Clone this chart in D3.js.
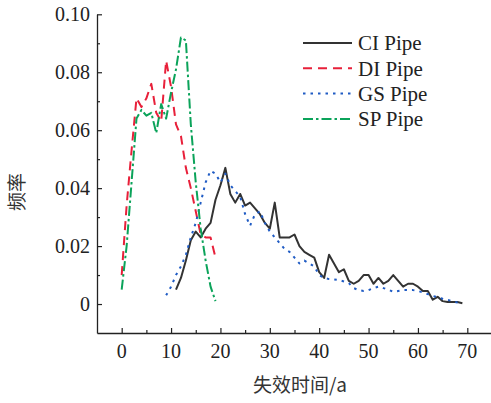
<!DOCTYPE html>
<html>
<head>
<meta charset="utf-8">
<script src="https://cdn.jsdelivr.net/npm/d3@7"></script>
<style>
    body { margin: 0; background: #fff; }
    .tick-label { font-family: "Liberation Serif", "DejaVu Serif", serif; font-size: 20px; fill: #222; }
    .legend-label { font-family: "Liberation Serif", "DejaVu Serif", serif; font-size: 21px; fill: #222; }
    .axis-title { font-family: "Noto Sans CJK SC", sans-serif; font-size: 19px; fill: #333; }
</style>
</head>
<body>
<div id="chart"></div>
<script>

// failure time (years) and frequency for each pipe material
const diYears = d3.range(0, 20);
const diFreq = [0.010, 0.034, 0.053, 0.071, 0.068, 0.071, 0.076, 0.066, 0.063, 0.084,
    0.075, 0.062, 0.058, 0.047, 0.040, 0.032, 0.024, 0.023, 0.023, 0.016];

const spYears = d3.range(0, 20);
const spFreq = [0.005, 0.020, 0.042, 0.064, 0.067, 0.065, 0.066, 0.059, 0.069, 0.064,
    0.073, 0.081, 0.092, 0.091, 0.062, 0.042, 0.026, 0.015, 0.006, 0.001];

const ciYears = d3.range(11, 70);
const ciFreq = [0.005, 0.009, 0.015, 0.022, 0.025, 0.023, 0.026, 0.028, 0.036, 0.041,
    0.047, 0.038, 0.035, 0.038, 0.034, 0.035, 0.033, 0.031, 0.028, 0.026,
    0.035, 0.023, 0.023, 0.023, 0.024, 0.020, 0.018, 0.017, 0.016, 0.011,
    0.009, 0.017, 0.014, 0.011, 0.012, 0.008, 0.007, 0.008, 0.010, 0.010,
    0.007, 0.009, 0.007, 0.008, 0.010, 0.008, 0.006, 0.007, 0.007, 0.006,
    0.0045, 0.0045, 0.0015, 0.0025, 0.001, 0.0007, 0.0007, 0.0007, 0.0003];

const gsYears = d3.range(9, 70);
const gsFreq = [0.003, 0.006, 0.010, 0.013, 0.017, 0.023, 0.028, 0.035, 0.042, 0.046,
    0.045, 0.042, 0.045, 0.041, 0.039, 0.037, 0.031, 0.027, 0.031, 0.032,
    0.028, 0.025, 0.023, 0.021, 0.019, 0.018, 0.016, 0.014, 0.015, 0.014,
    0.013, 0.010, 0.009, 0.0086, 0.0085, 0.0083, 0.0078, 0.0072, 0.0055, 0.0048,
    0.0045, 0.0048, 0.0055, 0.006, 0.0055, 0.005, 0.0042, 0.0045, 0.0048, 0.0048,
    0.0048, 0.0045, 0.004, 0.0034, 0.0028, 0.0024, 0.0018, 0.0014, 0.001, 0.0005, 0.0003];

const xTicks = [0, 10, 20, 30, 40, 50, 60, 70];
const yTicks = [0, 0.02, 0.04, 0.06, 0.08, 0.10];
const yTickLabels = ["0", "0.02", "0.04", "0.06", "0.08", "0.10"];

const series = [
    {name: "CI Pipe", years: ciYears, values: ciFreq, color: "#333333", dash: null},
    {name: "DI Pipe", years: diYears, values: diFreq, color: "#e8203a", dash: "9,6"},
    {name: "GS Pipe", years: gsYears, values: gsFreq, color: "#1f5bc4", dash: "2.5,5"},
    {name: "SP Pipe", years: spYears, values: spFreq, color: "#0ba35a", dash: "10,3,2.5,3"}
];

const width = 491, height = 403;

const svg = d3.select("#chart").append("svg")
    .attr("width", width)
    .attr("height", height);

// Scales
const x = d3.scaleLinear().domain([-5, 75]).range([97, 492]);
const y = d3.scaleLinear().domain([-0.01, 0.10]).range([333, 14.3]);

// Lines
const line = d3.line()
    .x(d => x(d[0]))
    .y(d => y(d[1]));

series.forEach(s => {
    svg.append("path")
        .datum(s.years.map((yr, i) => [yr, s.values[i]]))
        .attr("fill", "none")
        .attr("stroke", s.color)
        .attr("stroke-width", 2)
        .attr("stroke-dasharray", s.dash)
        .attr("stroke-linejoin", "round")
        .attr("d", line);
});

// Axes (ticks pointing inward)
const xAxis = svg.append("g")
    .attr("transform", "translate(0," + y.range()[0] + ")")
    .call(d3.axisTop(x).tickValues(xTicks).tickSize(5).tickSizeOuter(0).tickFormat(""));
xAxis.append("g")
    .call(d3.axisTop(x).tickValues(d3.range(5, 75, 10)).tickSize(3).tickFormat(""));

const yAxis = svg.append("g")
    .attr("transform", "translate(" + x.range()[0] + ",0)")
    .call(d3.axisRight(y).tickValues(yTicks).tickSize(5).tickSizeOuter(0).tickFormat(""));
yAxis.append("g")
    .call(d3.axisRight(y).tickValues(d3.range(0.01, 0.1, 0.02)).tickSize(3).tickFormat(""));

svg.selectAll(".domain").attr("stroke", "#222").attr("stroke-width", 1.3);
svg.selectAll(".tick line").attr("stroke", "#222").attr("stroke-width", 1.2);
xAxis.selectAll("g > g > .domain").remove();
yAxis.selectAll("g > g > .domain").remove();

// Tick labels
svg.selectAll(".x-label")
    .data(xTicks)
    .enter().append("text")
    .attr("class", "tick-label")
    .attr("x", d => x(d))
    .attr("y", 358)
    .attr("text-anchor", "middle")
    .text(d => d);

svg.selectAll(".y-label")
    .data(yTicks)
    .enter().append("text")
    .attr("class", "tick-label")
    .attr("x", 90)
    .attr("y", d => y(d))
    .attr("dy", "0.35em")
    .attr("text-anchor", "end")
    .text((d, i) => yTickLabels[i]);

// Axis titles
svg.append("text")
    .attr("class", "axis-title")
    .attr("x", 300)
    .attr("y", 392)
    .attr("text-anchor", "middle")
    .text("失效时间/a");

svg.append("text")
    .attr("class", "axis-title")
    .attr("transform", "translate(24,192) rotate(-90)")
    .attr("text-anchor", "middle")
    .text("频率");

// Legend
const legend = svg.append("g")
    .attr("transform", "translate(303,43)");

series.forEach((s, i) => {
    legend.append("line")
        .attr("x1", 0).attr("x2", 49)
        .attr("y1", i * 25.3).attr("y2", i * 25.3)
        .attr("stroke", s.color)
        .attr("stroke-width", 2)
        .attr("stroke-dasharray", s.dash);
    legend.append("text")
        .attr("class", "legend-label")
        .attr("x", 55)
        .attr("y", i * 25.3)
        .attr("dy", "0.35em")
        .text(s.name);
});

</script>
</body>
</html>
